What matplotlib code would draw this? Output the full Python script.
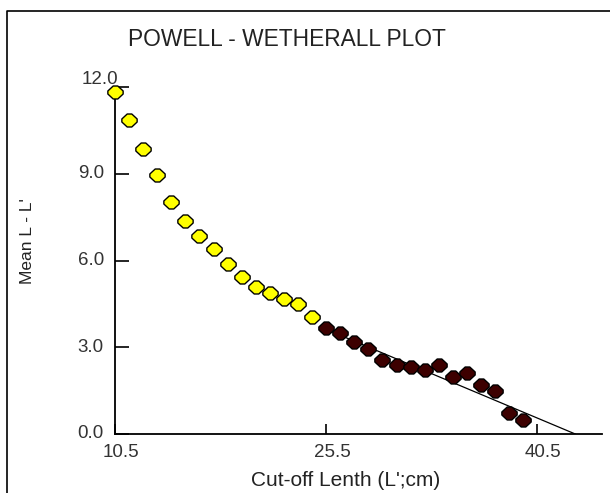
import matplotlib
matplotlib.use("Agg")
import matplotlib.pyplot as plt
from matplotlib.path import Path
from matplotlib.lines import Line2D
import matplotlib.transforms as mtransforms

plt.rcParams['font.family'] = ['Liberation Sans', 'DejaVu Sans']

# Data
yellow_x = [10.5, 11.5, 12.5, 13.5, 14.5, 15.5, 16.5, 17.5, 18.5, 19.5, 20.5, 21.5, 22.5, 23.5, 24.5]
yellow_y = [11.84, 10.86, 9.87, 8.95, 8.01, 7.38, 6.86, 6.39, 5.87, 5.44, 5.09, 4.89, 4.66, 4.50, 4.05]
dark_x = [25.5, 26.5, 27.5, 28.5, 29.5, 30.5, 31.5, 32.5, 33.5, 34.5, 35.5, 36.5, 37.5, 38.5, 39.5]
dark_y = [3.65, 3.48, 3.18, 2.95, 2.56, 2.37, 2.32, 2.21, 2.40, 1.98, 2.12, 1.68, 1.48, 0.71, 0.48]
fit_x = [25.5, 43.2]
fit_y = [3.62, 0.0]
x_ticks = [10.5, 25.5, 40.5]
x_ticklabels = ["10.5", "25.5", "40.5"]
y_ticks = [0.0, 3.0, 6.0, 9.0]
y_ticklabels = ["0.0", "3.0", "6.0", "9.0"]

W, H = 610, 493
fig = plt.figure(figsize=(W / 100, H / 100), dpi=100)
ax_l, ax_r, ax_t, ax_b = 115, 602, 87, 434
ax = fig.add_axes([ax_l / W, (H - ax_b) / H, (ax_r - ax_l) / W, (ax_b - ax_t) / H])
ax.set_xlim(10.5, 45.1)
ax.set_ylim(0, 12.0)

octa = Path([(0.3, 0.85), (1, 0.2), (1, -0.2), (0.3, -0.85), (-0.3, -0.85),
             (-1, -0.2), (-1, 0.2), (-0.3, 0.85), (0.3, 0.85)], closed=True)

ax.plot(fit_x, fit_y, color='black', lw=0.9, zorder=2)
ax.plot(yellow_x, yellow_y, linestyle='none', marker=octa, ms=11, mfc='#ffff00',
        mec='black', mew=1.0, clip_on=False, zorder=3)
ax.plot(dark_x, dark_y, linestyle='none', marker=octa, ms=11, mfc='#3d0000',
        mec='black', mew=1.0, clip_on=False, zorder=3)

for s in ['top', 'right']:
    ax.spines[s].set_visible(False)
for s in ['left', 'bottom']:
    ax.spines[s].set_linewidth(1.3)

TS = 13.5
ax.set_xticks(x_ticks)
ax.set_xticklabels(x_ticklabels)
ax.set_yticks(y_ticks + [12.0])
ax.set_yticklabels(y_ticklabels + [""])
ax.tick_params(axis='y', direction='in', length=10, width=1.2, labelsize=TS, pad=8,
               colors='black', labelcolor='#333333')
ax.tick_params(axis='x', direction='in', length=7, width=1.2, labelsize=TS, pad=7,
               labelcolor='#333333')
offx = mtransforms.ScaledTranslation(6 / 100, 0, fig.dpi_scale_trans)
for lbl in ax.get_xticklabels():
    lbl.set_transform(lbl.get_transform() + offx)
offy = mtransforms.ScaledTranslation(0, 2 / 100, fig.dpi_scale_trans)
for lbl in ax.get_yticklabels():
    lbl.set_transform(lbl.get_transform() + offy)

# special 12.0 label (offset up-right in reference)
fig.text(118 / W, 1 - 79 / H, "12.0", fontsize=TS, color='#333333', ha='right', va='center')

fig.text(287 / W, 1 - 40 / H, "POWELL - WETHERALL PLOT", fontsize=16.4, color='#222222',
         ha='center', va='center')
fig.text(346 / W, 1 - 481 / H, "Cut-off Lenth (L';cm)", fontsize=15, color='#222222',
         ha='center', va='center')
fig.text(28 / W, 1 - 241 / H, "Mean L - L'", fontsize=12.5, color='#222222',
         ha='center', va='center', rotation=90)

# figure border (top and left)
fig.add_artist(Line2D([7 / W, 7 / W, 1.0], [0.0, 1 - 11 / H, 1 - 11 / H],
                      transform=fig.transFigure, color='black', lw=1.2))

fig.savefig("out.png", dpi=100)
